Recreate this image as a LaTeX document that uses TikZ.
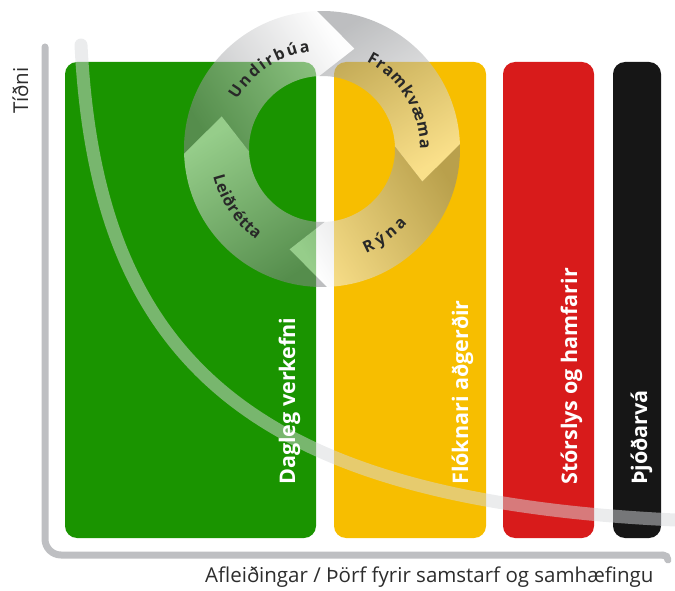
\documentclass[tikz,border=0pt]{standalone}
\usepackage{fontspec}
\setmainfont{Open Sans}
\usetikzlibrary{decorations.text,calc}
\definecolor{axisgray}{RGB}{190,191,194}
\definecolor{cgreen}{RGB}{26,148,0}
\definecolor{cyellow}{RGB}{247,190,0}
\definecolor{cred}{RGB}{216,27,27}
\definecolor{cblack}{RGB}{22,22,22}
\definecolor{bandgray}{RGB}{215,217,220}
\definecolor{ringdark}{RGB}{135,137,140}
\definecolor{ringlight}{RGB}{252,252,252}
\definecolor{ringtext}{RGB}{40,40,40}
\definecolor{labeltext}{RGB}{45,45,45}
\begin{document}
\begin{tikzpicture}[x=1pt,y=1pt,
  bar/.style={rounded corners=12pt},
  bartext/.style={rotate=90,anchor=base west,inner sep=0pt,text=white,font=\fontsize{21.5}{24}\selectfont\bfseries},
  axislabel/.style={inner sep=0pt,anchor=base west,text=labeltext,font=\fontsize{20.5}{24}\selectfont},
  axisline/.style={axisgray,line width=7pt,line cap=round},
  seg/.style={fill opacity=0.55,top color=ringlight,bottom color=ringdark},
  ringlabel/.style={decorate,decoration={text along path,text align={fit to path},text={|\fontsize{16}{18}\selectfont\bfseries\color{ringtext}|#1}}}
]
\useasboundingbox (0,0) rectangle (675,590);
% axis
\draw[axisline,rounded corners=16pt] (45,543) -- (45,35) -- (663,35);
\draw[axisline] (663,35) arc[start angle=90,end angle=0,radius=5];
% bars
\fill[cgreen,bar] (65,52) rectangle (316,528);
\fill[cyellow,bar] (334,52) rectangle (486,528);
\fill[cred,bar] (503,52) rectangle (594,528);
\fill[cblack,bar] (613,52) rectangle (661,528);
% band
\draw[bandgray,line width=13pt,draw opacity=0.5,line cap=round]
  (81,545) .. controls (97,230) and (250,90) .. (675,70);
% bar labels
\node[bartext] (t1) at (295,105) {Dagleg verkefni};
\node[bartext] (t2) at (468,105) {Flóknari aðgerðir};
\node[bartext] (t3) at (577,105) {Stórslys og hamfarir};
\node[bartext] (t4) at (647,105) {Þjóðarvá};
% axis labels
\node[axislabel,rotate=90] (ylab) at (28,476) {Tíðni};
\node[axislabel] (xlab) at (205,8) {Afleiðingar / Þörf fyrir samstarf og samhæfingu};
% ring
\coordinate (C) at (322,441);
\foreach \t/\sa in {72/-58,-18/-148,-108/122,162/32}{
  \pgfmathsetmacro\ta{\t+110}
  \pgfmathsetmacro\tb{\t+20}
  \pgfmathsetmacro\tc{\t+90}
  \shade[seg,shading angle=\sa] ($(C)+(\ta:138)$) arc[start angle=\ta,end angle=\tb,radius=138]
    -- ($(C)+(\t:105.5)$) -- ($(C)+(\tb:73)$) arc[start angle=\tb,end angle=\ta,radius=73]
    -- ($(C)+(\tc:105.5)$) -- cycle;
}
\path[ringlabel=Undirbúa] ($(C)+(150:98)$) arc[start angle=150,end angle=97,radius=98];
\path[ringlabel=Framkvæma] ($(C)+(63:98)$) arc[start angle=63,end angle=0,radius=98];
\path[ringlabel=Rýna] ($(C)+(-67:113)$) arc[start angle=-67,end angle=-41,radius=113];
\path[ringlabel=Leiðrétta] ($(C)+(194:112)$) arc[start angle=194,end angle=234,radius=112];
\end{tikzpicture}
\end{document}
